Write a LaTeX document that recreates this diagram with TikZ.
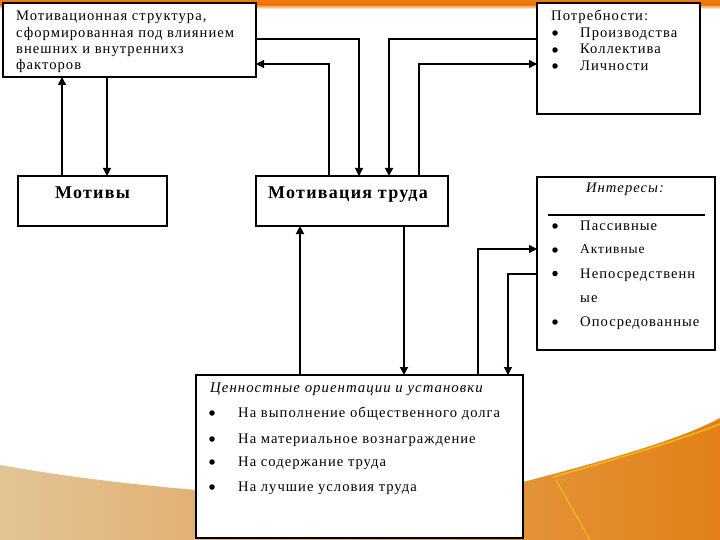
\documentclass[tikz,border=0pt]{standalone}
\usepackage{fontspec}
\setmainfont{Liberation Serif}[LetterSpace=7]
\usetikzlibrary{arrows.meta,calc}
\definecolor{slideorange}{RGB}{240,120,10}
\definecolor{sandtan}{RGB}{226,196,150}
\definecolor{deeporange}{RGB}{226,128,22}
\definecolor{sunyellow}{RGB}{245,185,20}
\tikzset{
  box/.style={draw, line width=1.4pt, fill=white, rectangle, inner sep=0pt, outer sep=0pt},
  txt/.style={inner sep=0pt, anchor=base west, font=\fontsize{14.6}{16}\selectfont},
  ttl/.style={inner sep=0pt, anchor=base, font=\fontsize{18}{20}\selectfont\bfseries},
  bul/.style={circle, fill=black, inner sep=0pt, minimum size=5.5pt},
  arr/.style={line width=1.2pt, -{Triangle[length=8pt,width=8pt]}},
  arrthick/.style={arr, line width=1.8pt}
}
\begin{document}
\begin{tikzpicture}[x=1pt,y=-1pt]
\useasboundingbox (0,0) rectangle (720,540);
% background decoration
\fill[white] (0,0) rectangle (720,540);
\fill[slideorange] (0,0) rectangle (720,4.5);
\shade[top color=slideorange, bottom color=white] (0,4.5) rectangle (720,9);
\shade[left color=sandtan, right color=deeporange]
  (0,465) .. controls (150,492) and (400,512) .. (523,482)
  .. controls (600,462) and (680,440) .. (720,418) -- (720,540) -- (0,540) -- cycle;
\draw[sunyellow, line width=1.5pt] (553,477) .. controls (620,458) and (680,440) .. (720,424);
\draw[sunyellow, line width=1.2pt] (556,480) -- (590,540);

% boxes
\node[box, minimum width=253pt, minimum height=74pt] (A) at (129.5,40) {};
\node[box, minimum width=163pt, minimum height=111pt] (B) at (618.5,58.5) {};
\node[box, minimum width=149pt, minimum height=50pt] (C) at (92.5,201) {};
\node[box, minimum width=192pt, minimum height=50pt] (D) at (352,201) {};
\node[box, minimum width=178pt, minimum height=173pt] (E) at (626,263.5) {};
\node[box, line width=1.8pt, minimum width=327pt, minimum height=163pt] (F) at (359.5,456.5) {};

% texts box A
\node[txt] (a1) at (16,21) {Мотивационная структура,};
\node[txt] (a2) at (16,37.5) {сформированная под влиянием};
\node[txt] (a3) at (16,54) {внешних и внутреннихз};
\node[txt] (a4) at (16,70) {факторов};

% box B
\node[txt] (b0) at (551,21) {Потребности:};
\node[bul] (bb1) at (555,33) {};
\node[txt] (b1) at (580,37.5) {Производства};
\node[bul] (bb2) at (555,50) {};
\node[txt] (b2) at (580,54) {Коллектива};
\node[bul] (bb3) at (555,66) {};
\node[txt] (b3) at (580,70.5) {Личности};

% box C, D titles
\node[ttl] (c0) at (92.5,199) {Мотивы};
\node[ttl] (d0) at (348,199) {Мотивация труда};

% box E
\node[inner sep=0pt, anchor=base, font=\fontsize{14.6}{16}\selectfont\itshape] (e0) at (625,193) {Интересы:};
\coordinate (eL) at (548,215);
\coordinate (eR) at (705,215);
\draw[line width=1.6pt] (eL) -- (eR);
\node[bul] (eb1) at (555,226) {};
\node[txt] (e1) at (580,230) {Пассивные};
\node[bul] (eb2) at (555,250) {};
\node[txt, font=\fontsize{13.5}{15}\selectfont] (e2) at (580,254) {Активные};
\node[bul] (eb3) at (555,273.5) {};
\node[txt] (e3) at (580,278) {Непосредственн};
\node[txt] (e3b) at (580,302) {ые};
\node[bul] (eb4) at (555,322) {};
\node[txt] (e4) at (580,326.5) {Опосредованные};

% box F
\node[inner sep=0pt, anchor=base west, font=\fontsize{14.8}{16}\selectfont\itshape] (f0) at (210,392) {Ценностные ориентации и установки};
\node[bul] (fb1) at (212,413) {};
\node[txt] (f1) at (238,417.5) {На выполнение общественного долга};
\node[bul] (fb2) at (212,439) {};
\node[txt] (f2) at (238,443.5) {На материальное вознаграждение};
\node[bul] (fb3) at (212,462) {};
\node[txt] (f3) at (238,466.5) {На содержание труда};
\node[bul] (fb4) at (212,487) {};
\node[txt] (f4) at (238,491.5) {На лучшие условия труда};

% helper coordinates for connector routes
\coordinate (v62) at (62,0);
\coordinate (v107) at (107,0);
\coordinate (v329) at (329,0);
\coordinate (v359) at (359,0);
\coordinate (v389) at (389,0);
\coordinate (v419) at (419,0);
\coordinate (v300) at (300,0);
\coordinate (v404) at (404,0);
\coordinate (v478) at (478,0);
\coordinate (v508) at (508,0);
\coordinate (h39) at (0,39);
\coordinate (h64) at (0,64);
\coordinate (h249) at (0,249);
\coordinate (h274) at (0,274);

% connectors
\draw[arr] (C.north -| v62) -- (A.south -| v62);
\draw[arr] (A.south -| v107) -- (C.north -| v107);
\draw[arr] (A.east |- h39) -| (D.north -| v359);
\draw[arr] (D.north -| v329) |- (A.east |- h64);
\draw[arrthick] (B.west |- h39) -| (D.north -| v389);
\draw[arr] (D.north -| v419) |- (B.west |- h64);
\draw[arrthick] (F.north -| v300) -- (D.south -| v300);
\draw[arrthick] (D.south -| v404) -- (F.north -| v404);
\draw[arr] (F.north -| v478) |- (E.west |- h249);
\draw[arr] (E.west |- h274) -| (F.north -| v508);
\end{tikzpicture}
\end{document}
